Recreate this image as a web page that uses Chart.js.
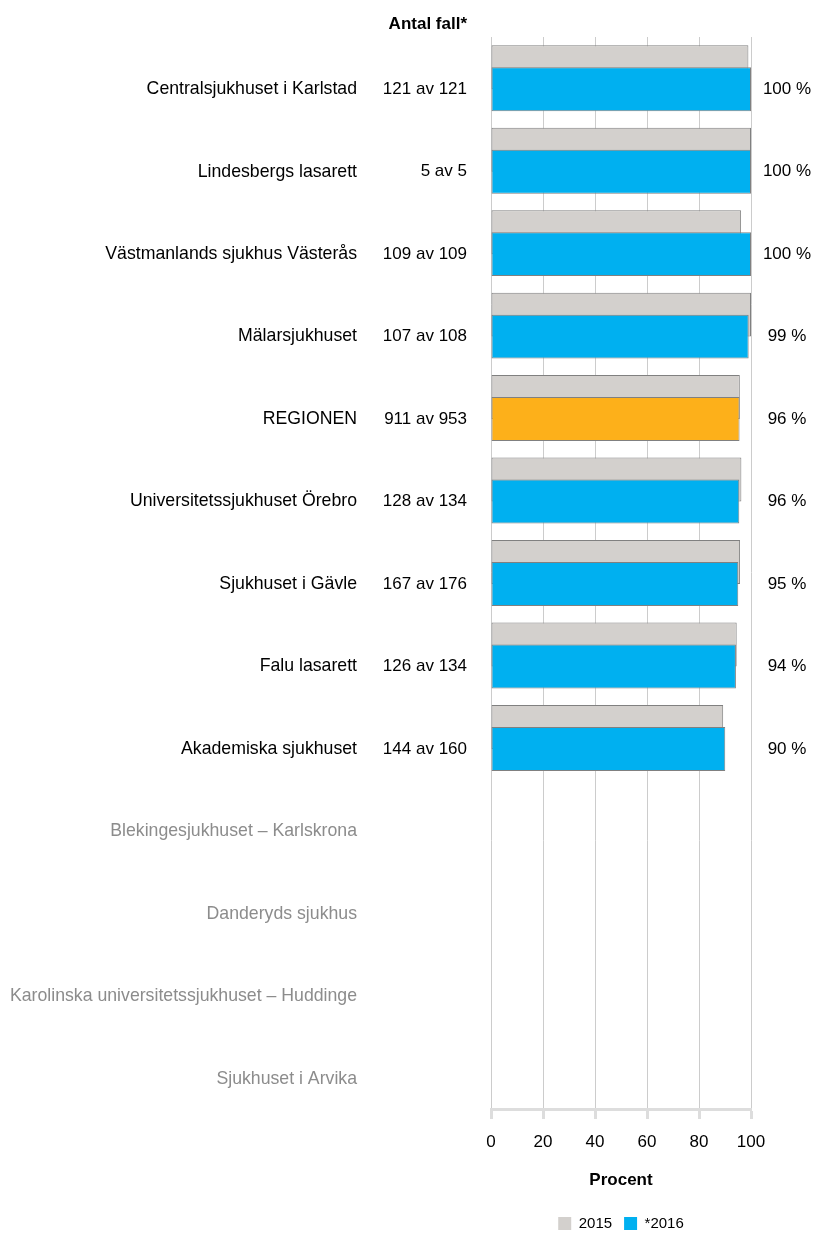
<!DOCTYPE html>
<html lang="sv">
<head>
<meta charset="utf-8">
<title>Antal fall per sjukhus</title>
<script src="https://cdn.jsdelivr.net/npm/chart.js@4.4.1/dist/chart.umd.min.js"></script>
<style>
  html, body { margin: 0; padding: 0; background: #fff; }
  #wrap { position: relative; width: 813px; height: 1233px; }
</style>
</head>
<body>
<div id="wrap"><canvas id="fallChart"></canvas></div>
<script>
// Data
const hospitals = [
  "Centralsjukhuset i Karlstad",
  "Lindesbergs lasarett",
  "Västmanlands sjukhus Västerås",
  "Mälarsjukhuset",
  "REGIONEN",
  "Universitetssjukhuset Örebro",
  "Sjukhuset i Gävle",
  "Falu lasarett",
  "Akademiska sjukhuset",
  "Blekingesjukhuset – Karlskrona",
  "Danderyds sjukhus",
  "Karolinska universitetssjukhuset – Huddinge",
  "Sjukhuset i Arvika"
];
const counts = [
  "121 av 121", "5 av 5", "109 av 109", "107 av 108", "911 av 953",
  "128 av 134", "167 av 176", "126 av 134", "144 av 160", "", "", "", ""
];
const pctLabels = [
  "100 %", "100 %", "100 %", "99 %", "96 %", "96 %", "95 %", "94 %", "90 %", "", "", "", ""
];
const values2015 = [99, 100, 96.2, 100, 95.7, 96.3, 95.8, 94.5, 89.3, null, null, null, null];
const values2016 = [100, 100, 100, 99.1, 95.6, 95.5, 95.1, 94.2, 90.1, null, null, null, null];
const xTicks = [0, 20, 40, 60, 80, 100];
const seriesNames = ["2015", "*2016"];
const highlightLabel = "REGIONEN";

const FONT = "'Liberation Sans', Arial, Helvetica, sans-serif";
Chart.defaults.font.family = FONT;
Chart.defaults.color = "#000";

const GRAY = "#d3d0cd";
const BLUE = "#00b0f0";
const ORANGE = "#fdb01a";
const EDGE = "#808080";

// gray bars go behind the blue/orange ones, so draw dataset 1 last
const drawOrder = {
  id: "drawOrder",
  beforeDatasetDraw(chart, args) {
    if (args.index === 1) return false;
  },
  afterDatasetsDraw(chart) {
    chart.getDatasetMeta(1).controller.draw();
  }
};

// hospital names, "Antal fall" column and percent labels
const sideLabels = {
  id: "sideLabels",
  afterDraw(chart) {
    const c = chart.ctx;
    const y = chart.scales.y;
    const blue = chart.getDatasetMeta(1);
    const shift = blue.data[0].y - y.getPixelForValue(0);
    c.save();
    c.textBaseline = "middle";
    c.font = "bold 17px " + FONT;
    c.fillStyle = "#000";
    c.textAlign = "right";
    c.fillText("Antal fall*", 467, 24);
    hospitals.forEach((name, i) => {
      const py = y.getPixelForValue(i) + shift;
      const empty = values2016[i] === null;
      c.textAlign = "right";
      c.font = "17.7px " + FONT;
      c.fillStyle = empty ? "#8c8c8c" : "#000";
      c.fillText(name, 357, py);
      c.font = "17px " + FONT;
      c.fillStyle = "#000";
      c.fillText(counts[i], 467, py);
      c.textAlign = "center";
      c.fillText(pctLabels[i], 787, py);
    });
    c.restore();
  }
};

const ctx = document.getElementById("fallChart").getContext("2d");
new Chart(ctx, {
  type: "bar",
  data: {
    labels: hospitals,
    datasets: [
      {
        label: seriesNames[0],
        data: values2015,
        backgroundColor: GRAY,
        borderColor: EDGE,
        borderWidth: 1,
        borderSkipped: false
      },
      {
        label: seriesNames[1],
        data: values2016,
        backgroundColor: (c) => hospitals[c.dataIndex] === highlightLabel ? ORANGE : BLUE,
        borderColor: EDGE,
        borderWidth: 1,
        borderSkipped: false
      }
    ]
  },
  options: {
    indexAxis: "y",
    responsive: true,
    maintainAspectRatio: false,
    animation: false,
    categoryPercentage: 0.533,
    barPercentage: 2.0,
    layout: { padding: { left: 491, right: 62, top: 37, bottom: 0 } },
    scales: {
      y: { display: false },
      x: {
        min: 0,
        max: 100,
        afterBuildTicks: (scale) => { scale.ticks = xTicks.map((v) => ({ value: v })); },
        ticks: { padding: 13, font: { size: 17 }, color: "#000" },
        grid: {
          color: "#cccccc",
          lineWidth: 1,
          tickLength: 10,
          tickColor: "#dddddd",
          tickWidth: 3
        },
        border: { color: "#dddddd", width: 3 },
        title: {
          display: true,
          text: "Procent",
          font: { size: 17, weight: "bold" },
          color: "#000",
          padding: { top: 4.4, bottom: 13.8 }
        }
      }
    },
    plugins: {
      tooltip: { enabled: false },
      legend: {
        position: "bottom",
        maxHeight: 29,
        labels: {
          boxWidth: 13,
          boxHeight: 13,
          padding: 12,
          font: { size: 15 },
          color: "#000",
          generateLabels(chart) {
            const items = Chart.defaults.plugins.legend.labels.generateLabels(chart);
            items.forEach((it, i) => {
              it.fillStyle = i === 0 ? GRAY : BLUE;
              it.lineWidth = 0;
              it.strokeStyle = "rgba(0,0,0,0)";
            });
            return items;
          }
        }
      }
    }
  },
  plugins: [drawOrder, sideLabels]
});
</script>
</body>
</html>
